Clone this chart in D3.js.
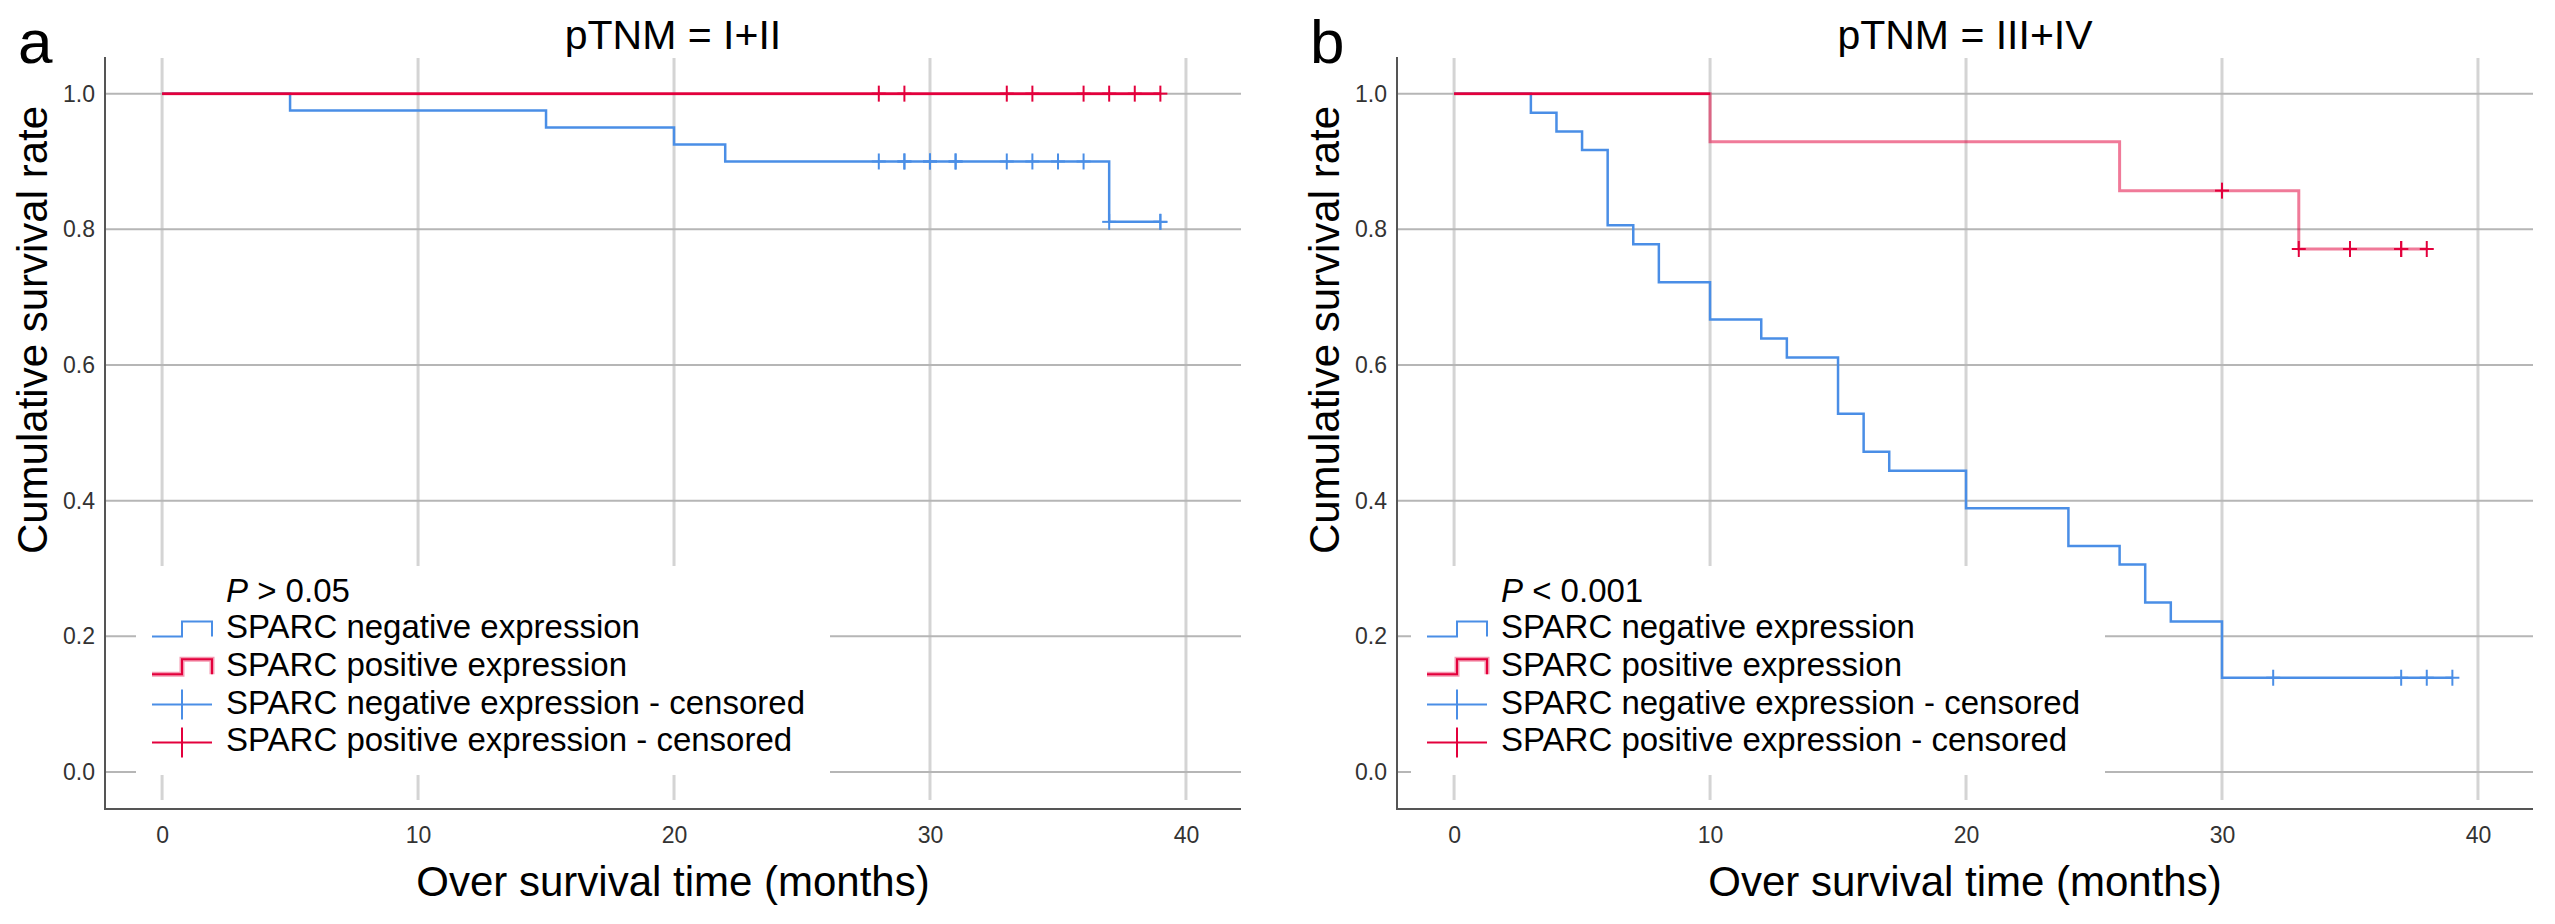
<!DOCTYPE html>
<html><head><meta charset="utf-8">
<script src="https://cdn.jsdelivr.net/npm/d3@7"></script>
<style>
html,body{margin:0;padding:0;background:#fff;}
svg{display:block;font-family:"Liberation Sans",Arial,Helvetica,sans-serif;}
</style></head>
<body>
<svg id="chart" width="2555" height="924"></svg>
<script>
// ---------- data ----------
const xTicks = [0, 10, 20, 30, 40];
const yTicks = [0.0, 0.2, 0.4, 0.6, 0.8, 1.0];
const panelLetters = ["a", "b"];
const panelTitles = ["pTNM = I+II", "pTNM = III+IV"];
const pValueTexts = [["> 0.05"], ["< 0.001"]];
const legendLabels = ["SPARC negative expression", "SPARC positive expression",
  "SPARC negative expression - censored", "SPARC positive expression - censored"];

// panel a : pTNM I+II
const negA_times = [0, 5, 15, 20, 22, 37];
const negA_surv  = [1.0, 0.975, 0.95, 0.925, 0.90, 0.811];
const negA_end = 39;
const negA_cens = [28, 29, 29, 30, 30, 31, 31, 33, 34, 35, 36, 37, 39, 39];
const posA_times = [0];
const posA_surv  = [1.0];
const posA_end = 39;
const posA_cens = [28, 29, 33, 34, 36, 37, 38, 39];

// panel b : pTNM III+IV
const negB_times = [0, 3, 4, 5, 6, 7, 8, 10, 12, 13, 15, 16, 17, 20, 24, 26, 27, 28, 30];
const negB_surv  = [1.0, 0.972, 0.944, 0.917, 0.806, 0.778, 0.722, 0.667, 0.639, 0.611,
                    0.528, 0.472, 0.444, 0.389, 0.333, 0.306, 0.250, 0.222, 0.139];
const negB_end = 39;
const negB_cens = [32, 37, 38, 39];
const posB_times = [0, 10, 26, 33];
const posB_surv  = [1.0, 0.929, 0.857, 0.771];
const posB_end = 38;
const posB_cens = [30, 33, 35, 37, 37, 38];

const xTitle = "Over survival time (months)";
const yTitle = "Cumulative survival rate";

// ---------- style ----------
const BLUE = "#4a8ee6", RED = "#e3003c";
const svg = d3.select("#chart");

const panels = [
  {ox: 0, neg: [negA_times, negA_surv, negA_end, negA_cens], pos: [posA_times, posA_surv, posA_end, posA_cens], legDx: 17},
  {ox: 1292, neg: [negB_times, negB_surv, negB_end, negB_cens], pos: [posB_times, posB_surv, posB_end, posB_cens], legDx: 0}
];

function survAt(times, surv, t) {
  let v = surv[0];
  for (let i = 0; i < times.length; i++) if (times[i] <= t) v = surv[i];
  return v;
}

panels.forEach((p, pi) => {
  const L = 105 + p.ox, R = 1241 + p.ox, T = 57, B = 809;
  const x = d3.scaleLinear().domain([-2.23, 42.15]).range([L, R]);
  const y = d3.scaleLinear().domain([-0.0545, 1.054]).range([B, T]);
  const g = svg.append("g");

  // grid
  g.selectAll(".vg").data(xTicks).join("line")
    .attr("x1", d => x(d)).attr("x2", d => x(d))
    .attr("y1", T + 1).attr("y2", B - 9)
    .attr("stroke", "#d4d4d4").attr("stroke-width", 3);
  g.selectAll(".hg").data(yTicks).join("line")
    .attr("x1", L).attr("x2", R)
    .attr("y1", d => y(d)).attr("y2", d => y(d))
    .attr("stroke", "#b6b6b6").attr("stroke-width", 2);

  // legend background (covers grid)
  const lx = L + 14 + p.legDx;
  g.append("rect").attr("x", lx).attr("y", 566).attr("width", 694).attr("height", 209).attr("fill", "#fff");

  // axes
  const ax = g.append("g").attr("transform", `translate(0,${B})`)
    .call(d3.axisBottom(x).tickValues(xTicks).tickSize(0).tickPadding(18).tickFormat(d3.format("d")));
  ax.select(".domain").remove();
  ax.selectAll("text").attr("font-size", 23).attr("fill", "#333").attr("font-family", "Liberation Sans, Arial");
  const ay = g.append("g").attr("transform", `translate(${L},0)`)
    .call(d3.axisLeft(y).tickValues(yTicks).tickSize(0).tickPadding(10).tickFormat(d3.format(".1f")));
  ay.select(".domain").remove();
  ay.selectAll("text").attr("font-size", 23).attr("fill", "#333").attr("font-family", "Liberation Sans, Arial");
  g.append("line").attr("x1", L).attr("x2", L).attr("y1", T).attr("y2", B + 1).attr("stroke", "#555").attr("stroke-width", 2);
  g.append("line").attr("x1", L).attr("x2", R).attr("y1", B).attr("y2", B).attr("stroke", "#555").attr("stroke-width", 2);

  // curves
  const line = d3.line().x(d => x(d[0])).y(d => y(d[1])).curve(d3.curveStepAfter);
  function curvePts(c) {
    const pts = c[0].map((t, i) => [t, c[1][i]]);
    pts.push([c[2], c[1][c[1].length - 1]]);
    return pts;
  }
  const negPts = curvePts(p.neg), posPts = curvePts(p.pos);
  g.append("path").attr("d", line(negPts)).attr("fill", "none").attr("stroke", BLUE).attr("stroke-width", 2.5);
  g.append("path").attr("d", line(posPts)).attr("fill", "none").attr("stroke", RED).attr("stroke-width", 3).attr("stroke-opacity", 0.52);
  // first (survival = 1) segment drawn solid
  const firstEnd = p.pos[0].length > 1 ? p.pos[0][1] : p.pos[2];
  g.append("line").attr("x1", x(0)).attr("x2", x(firstEnd)).attr("y1", y(1)).attr("y2", y(1))
    .attr("stroke", RED).attr("stroke-width", 2.5);

  // censor marks
  function marks(c, color) {
    const data = c[3].map(t => [t, survAt(c[0], c[1], t)]);
    const mg = g.append("g").attr("stroke", color).attr("stroke-width", 2);
    mg.selectAll(".mv").data(data).join("line")
      .attr("x1", d => x(d[0])).attr("x2", d => x(d[0]))
      .attr("y1", d => y(d[1]) - 8).attr("y2", d => y(d[1]) + 8);
    mg.selectAll(".mh").data(data).join("line")
      .attr("x1", d => x(d[0]) - 7).attr("x2", d => x(d[0]) + 7)
      .attr("y1", d => y(d[1])).attr("y2", d => y(d[1]));
  }
  marks(p.neg, BLUE);
  marks(p.pos, RED);

  // legend
  const sx = lx + 16, tx = lx + 90;
  const pt = g.append("text").attr("x", tx).attr("y", 602).attr("font-size", 33).attr("fill", "#000");
  pt.append("tspan").attr("font-style", "italic").text("P");
  pt.append("tspan").text(" " + pValueTexts[pi][0]);
  legendLabels.forEach((lab, i) => {
    const by = 638 + i * 37.8;
    g.append("text").attr("x", tx).attr("y", by).attr("font-size", 33).attr("fill", "#000").text(lab);
    const col = (i % 2 === 0) ? BLUE : RED;
    if (i < 2) {
      const lo = by - 1.5, hi = by - 16.5;
      const dpath = `M${sx},${lo}H${sx + 30}V${hi}H${sx + 60}V${lo}`;
      if (i === 1) g.append("path").attr("d", dpath).attr("fill", "none").attr("stroke", RED).attr("stroke-opacity", 0.4).attr("stroke-width", 5);
      g.append("path").attr("d", dpath).attr("fill", "none").attr("stroke", col).attr("stroke-width", 2);
    } else {
      const cy = by - 9;
      g.append("line").attr("x1", sx).attr("x2", sx + 60).attr("y1", cy).attr("y2", cy).attr("stroke", col).attr("stroke-width", 2);
      g.append("line").attr("x1", sx + 30).attr("x2", sx + 30).attr("y1", cy - 15).attr("y2", cy + 15).attr("stroke", col).attr("stroke-width", 2);
    }
  });

  // titles
  g.append("text").attr("x", (L + R) / 2).attr("y", 49).attr("text-anchor", "middle")
    .attr("font-size", 41).attr("fill", "#000").text(panelTitles[pi]);
  g.append("text").attr("x", (L + R) / 2).attr("y", 896).attr("text-anchor", "middle")
    .attr("font-size", 42).attr("fill", "#000").text(xTitle);
  g.append("text").attr("transform", `translate(${47 + p.ox},330) rotate(-90)`).attr("text-anchor", "middle")
    .attr("font-size", 42).attr("fill", "#000").text(yTitle);
  g.append("text").attr("x", 18 + p.ox).attr("y", 63).attr("font-size", 62).attr("fill", "#000").text(panelLetters[pi]);
});
</script>
</body></html>
